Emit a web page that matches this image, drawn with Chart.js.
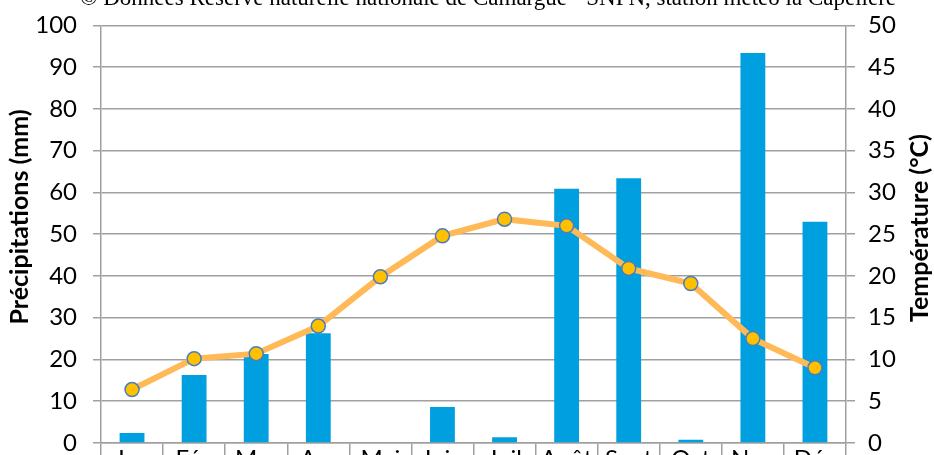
<!doctype html>
<html>
<head>
	<meta charset="utf-8">
	<title>Précipitations et températures - la Capelière</title>
	<script src="https://cdn.jsdelivr.net/npm/chart.js@4/dist/chart.umd.min.js"></script>
	<style>
		html, body { margin: 0; padding: 0; overflow: hidden; background: #fff; }
		canvas { display: block; margin-top: -5px; }
	</style>
</head>
<body>
	<canvas id="canvas" width="934" height="495"></canvas>
	<script>
		// données
		var months = ['Jan', 'Fév', 'Mar', 'Avr', 'Mai', 'Juin', 'Juil', 'Août', 'Sept', 'Oct', 'Nov', 'Déc'];
		var precip = [2.4, 16.3, 21.3, 26.3, 0, 8.6, 1.4, 60.9, 63.4, 0.8, 93.4, 53.0]; // mm
		var temp = [6.4, 10.1, 10.7, 14.0, 19.9, 24.8, 26.8, 26.0, 20.9, 19.1, 12.5, 9.0]; // °C
		var precipTicks = [0, 100, 10];
		var tempTicks = [0, 50, 5];

		var source = '© Données Réserve naturelle nationale de Camargue - SNPN, station météo la Capelière';
		var gridColor = '#a0a0a0';

		// titres des axes + source (le canvas est décalé de 5px vers le haut)
		var textPlugin = {
			id: 'texts',
			afterDraw: function (chart) {
				var c = chart.ctx;
				c.save();
				c.fillStyle = '#000';
				c.textAlign = 'center';
				c.textBaseline = 'alphabetic';
				c.font = '23px "Liberation Serif", serif';
				c.fillText(source, 488, 10);

				c.textBaseline = 'middle';
				c.font = 'bold 25px Lato';
				c.translate(20, 222);
				c.rotate(-Math.PI / 2);
				c.fillText('Précipitations (mm)', 0, 0);
				c.restore();

				c.save();
				c.fillStyle = '#000';
				c.textAlign = 'center';
				c.textBaseline = 'middle';
				c.font = 'bold 25px Lato';
				c.translate(920, 233);
				c.rotate(-Math.PI / 2);
				c.fillText('Température (°C)', 0, 0);
				c.restore();
			}
		};

		var ctx = document.getElementById('canvas').getContext('2d');
		var chart = new Chart(ctx, {
			type: 'bar',
			data: {
				labels: months,
				datasets: [{
					type: 'line',
					label: 'Température',
					data: temp,
					yAxisID: 'y1',
					order: 0,
					borderColor: '#FFB957',
					borderWidth: 6,
					tension: 0,
					pointRadius: 7,
					pointBorderWidth: 1.5,
					pointBackgroundColor: '#FFC000',
					pointBorderColor: '#4A7EBB'
				}, {
					label: 'Précipitations',
					data: precip,
					yAxisID: 'y',
					order: 1,
					backgroundColor: '#00A0E0',
					categoryPercentage: 1,
					barPercentage: 0.4
				}]
			},
			options: {
				responsive: false,
				animation: false,
				layout: { padding: { top: 20, left: 0, right: 0, bottom: 0 } },
				plugins: {
					legend: { display: false },
					tooltip: { enabled: false }
				},
				scales: {
					x: {
						offset: true,
						grid: { offset: true, drawOnChartArea: false, color: gridColor, lineWidth: 1.5, tickLength: 20 },
						border: { color: gridColor, width: 1.5 },
						ticks: { color: '#000', font: { family: 'Lato', size: 24 }, padding: -18, maxRotation: 0, autoSkip: false },
						afterFit: function (s) { s.height = 47; }
					},
					y: {
						position: 'left',
						min: precipTicks[0], max: precipTicks[1],
						ticks: { stepSize: precipTicks[2], color: '#000', font: { family: 'Lato', size: 24 }, padding: 16 },
						grid: { color: gridColor, lineWidth: 1.5, tickLength: 8 },
						border: { color: gridColor, width: 1.5 },
						afterFit: function (s) { s.width = 101; }
					},
					y1: {
						position: 'right',
						min: tempTicks[0], max: tempTicks[1],
						ticks: { stepSize: tempTicks[2], color: '#000', font: { family: 'Lato', size: 24 }, padding: 13 },
						grid: { drawOnChartArea: false, color: gridColor, lineWidth: 1.5, tickLength: 9 },
						border: { color: gridColor, width: 1.5 },
						afterFit: function (s) { s.width = 88; }
					}
				}
			},
			plugins: [textPlugin]
		});
	</script>
</body>
</html>
